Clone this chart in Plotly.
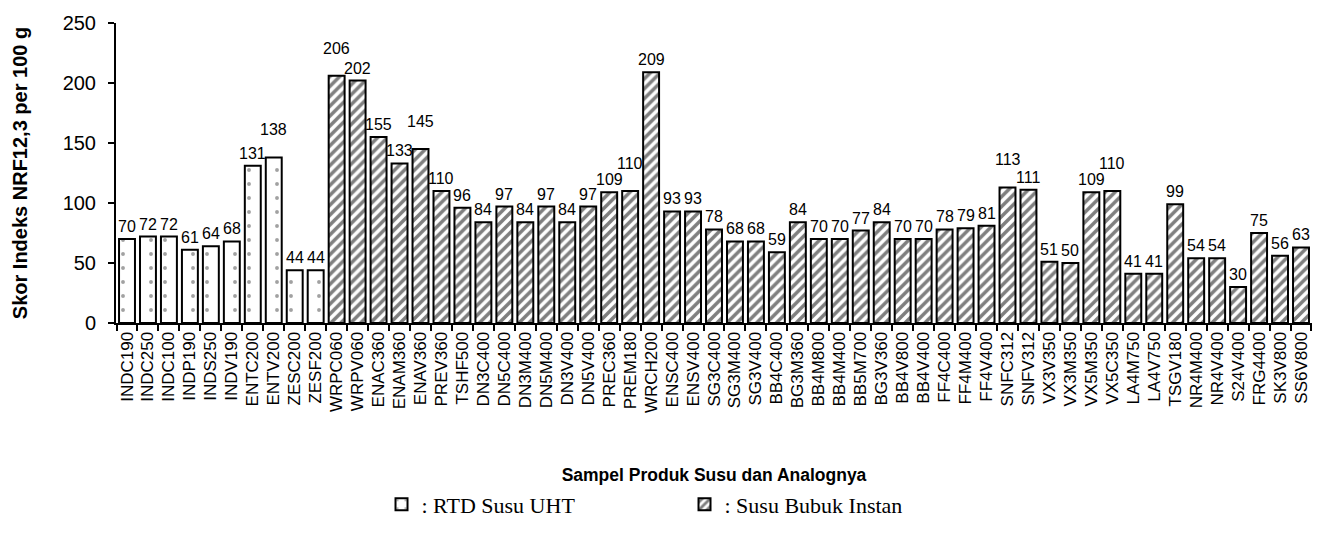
import plotly.graph_objects as go

rtd_labels = ["INDC190", "INDC250", "INDC100", "INDP190", "INDS250", "INDV190",
              "ENTC200", "ENTV200", "ZESC200", "ZESF200"]
rtd_values = [70, 72, 72, 61, 64, 68, 131, 138, 44, 44]

bubuk_labels = ["WRPC060", "WRPV060", "ENAC360", "ENAM360", "ENAV360", "PREV360", "TSHF500",
                "DN3C400", "DN5C400", "DN3M400", "DN5M400", "DN3V400", "DN5V400", "PREC360",
                "PREM180", "WRCH200", "ENSC400", "ENSV400", "SG3C400", "SG3M400", "SG3V400",
                "BB4C400", "BG3M360", "BB4M800", "BB4M400", "BB5M700", "BG3V360", "BB4V800",
                "BB4V400", "FF4C400", "FF4M400", "FF4V400", "SNFC312", "SNFV312", "VX3V350",
                "VX3M350", "VX5M350", "VX5C350", "LA4M750", "LA4V750", "TSGV180", "NR4M400",
                "NR4V400", "S24V400", "FRG4400", "SK3V800", "SS6V800"]
bubuk_values = [206, 202, 155, 133, 145, 110, 96, 84, 97, 84, 97, 84, 97, 109,
                110, 209, 93, 93, 78, 68, 68, 59, 84, 70, 70, 77, 84, 70,
                70, 78, 79, 81, 113, 111, 51, 50, 109, 110, 41, 41, 99, 54,
                54, 30, 75, 56, 63]

y_ticks = [0, 50, 100, 150, 200, 250]

FONT = "Liberation Sans, Arial, sans-serif"
SERIF = "Liberation Serif, Times New Roman, serif"

fig = go.Figure()
fig.add_trace(go.Bar(
    x=rtd_labels, y=rtd_values, name=": RTD Susu UHT",
    marker=dict(color="white", line=dict(color="black", width=2),
                pattern=dict(shape=".", fgcolor="#444444", bgcolor="white",
                             size=14, solidity=0.06)),
))
fig.add_trace(go.Bar(
    x=bubuk_labels, y=bubuk_values, name=": Susu Bubuk Instan",
    marker=dict(color="white", line=dict(color="black", width=2),
                pattern=dict(shape="/", fgcolor="black", bgcolor="white",
                             size=7, solidity=0.5)),
))

# value labels above bars; where two adjacent 3-digit labels of similar height
# would collide, the larger one is raised one line (as in the reference)
all_labels = rtd_labels + bubuk_labels
all_values = rtd_values + bubuk_values
n = len(all_values)
for i, (cat, v) in enumerate(zip(all_labels, all_values)):
    lift = False
    if v >= 100:
        for j in (i - 1, i + 1):
            if 0 <= j < n and all_values[j] >= 100 and all_values[j] < v and v - all_values[j] < 14:
                lift = True
    fig.add_annotation(
        x=cat, y=v, text=str(v), showarrow=False, yanchor="bottom",
        yshift=2 + (15 if lift else 0),
        font=dict(family=FONT, size=16, color="black"),
    )

fig.update_layout(
    width=1316, height=537,
    barmode="overlay", bargap=0.24,
    plot_bgcolor="white", paper_bgcolor="white",
    margin=dict(l=108, r=12, t=15, b=222),
    font=dict(family=FONT, color="black"),
    showlegend=True,
    legend=dict(orientation="h", x=0.222, xanchor="left", y=-0.605, yanchor="middle",
                font=dict(family=SERIF, size=22, color="black"),
                entrywidth=258, entrywidthmode="pixels",
                itemsizing="constant", traceorder="normal"),
)
fig.update_xaxes(
    showline=True, linecolor="black", linewidth=2,
    ticks="outside", tickson="boundaries", ticklen=6, tickcolor="black", tickwidth=2,
    tickangle=-90, tickfont=dict(family=FONT, size=17, color="black"),
    title=dict(text="<b>Sampel Produk Susu dan Analognya</b>",
               font=dict(family=FONT, size=17.5, color="black"), standoff=57),
    automargin=False,
)
fig.update_yaxes(
    range=[0, 250], tickvals=y_ticks, showgrid=False, zeroline=False,
    showline=True, linecolor="black", linewidth=2,
    ticks="outside", ticklen=6, tickcolor="black", tickwidth=2,
    ticklabelstandoff=8,
    tickfont=dict(family=FONT, size=20, color="black"),
    title=dict(text="<b>Skor Indeks NRF12,3 per 100 g</b>",
               font=dict(family=FONT, size=20, color="black"), standoff=30),
    automargin=False,
)

fig.write_html("out.html")
